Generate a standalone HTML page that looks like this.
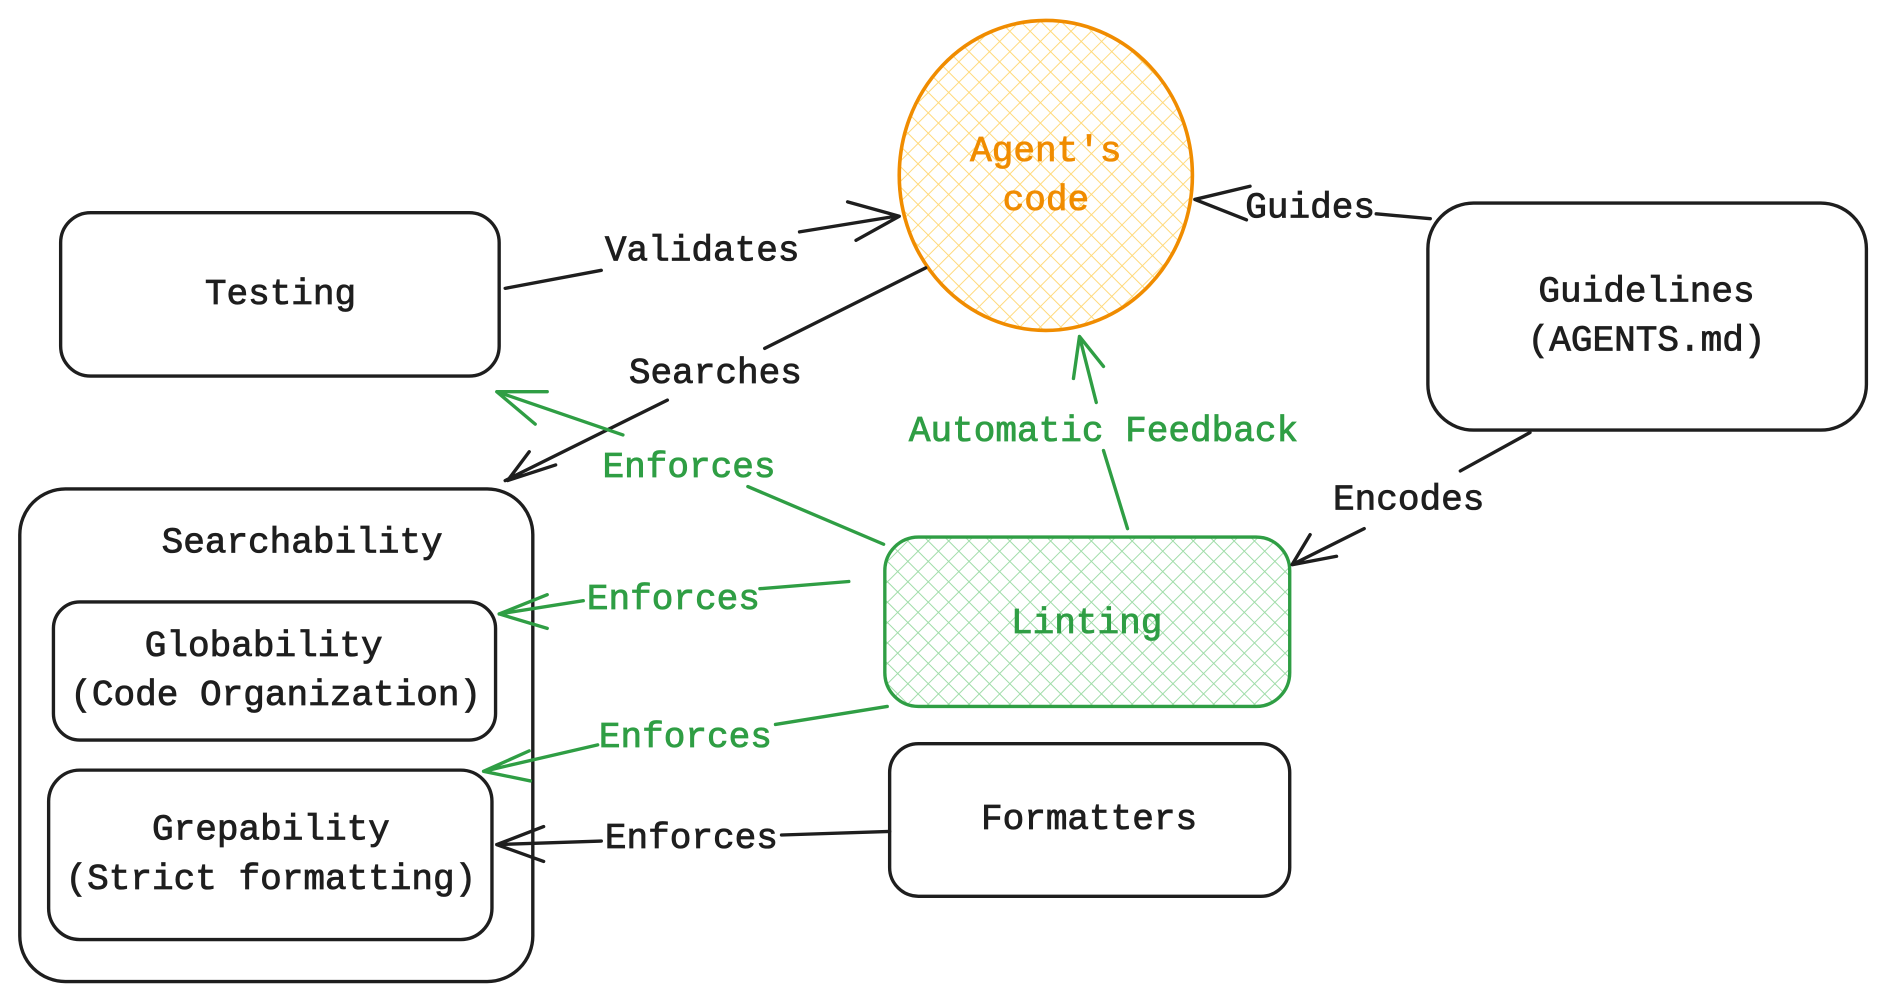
<!DOCTYPE html>
<html><head><meta charset="utf-8"><style>
html,body{margin:0;padding:0;background:#fff;}
svg{display:block;}
text{font-family:"Liberation Mono",monospace;font-size:30px;text-anchor:middle;dominant-baseline:middle;stroke-width:0.7;}
</style></head><body>
<svg width="1885" height="1002" viewBox="0 0 1568 834" xmlns="http://www.w3.org/2000/svg">
<defs>
<pattern id="hy" width="12" height="12" patternUnits="userSpaceOnUse" patternTransform="rotate(45)">
<rect width="12" height="12" fill="#fff"/>
<path d="M0 0V12M0 0H12" stroke="#ffd97a" stroke-width="1.6"/>
</pattern>
<pattern id="hg" width="12" height="12" patternUnits="userSpaceOnUse" patternTransform="rotate(45)">
<rect width="12" height="12" fill="#fff"/>
<path d="M0 0V12M0 0H12" stroke="#9fdca8" stroke-width="1.6"/>
</pattern>
</defs>
<g fill="none" stroke-width="2.8" stroke-linecap="round" stroke-linejoin="round">
<ellipse cx="870" cy="146" rx="122" ry="129" fill="url(#hy)" stroke="#f08c00" stroke-width="3"/>
<rect x="736" y="447" width="337" height="141" rx="28" fill="url(#hg)" stroke="#2f9e44"/>
<g stroke="#1e1e1e">
<rect x="50" y="177" width="365" height="136" rx="25"/>
<rect x="1188" y="169" width="365" height="189" rx="38"/>
<rect x="16" y="407" width="427" height="410" rx="38"/>
<rect x="44" y="501" width="368" height="115" rx="22"/>
<rect x="40" y="641" width="369" height="141" rx="26"/>
<rect x="740" y="619" width="333" height="127" rx="24"/>
<path d="M420 240L500 225M665 193L745 180M705 168L748 180L712 200"/>
<path d="M770 223L636 290M555 333L420 400M440 376L422 400L462 387"/>
<path d="M1190 182L1145 178M1040 155L994 166L1037 183"/>
<path d="M1273 360L1215 392M1135 440L1075 470M1090 445L1075 470L1112 463"/>
<path d="M740 692L650 695M500 700L413 703M452 688L413 703L452 717"/>
</g>
<g stroke="#2f9e44">
<path d="M938 440L918 375M912 335L898 280M893 315L898 280L918 305"/>
<path d="M735 453L622 405M518 362L413 326M445 353L413 326L455 326"/>
<path d="M706 484L632 490M485 500L415 511M455 495L415 511L455 523"/>
<path d="M738 588L645 603M497 620L402 642M440 625L402 642L441 650"/>
</g>
</g>
<g fill="#f08c00" stroke="#f08c00">
<text x="870" y="126">Agent's</text>
<text x="870" y="167">code</text>
</g>
<g fill="#1e1e1e" stroke="#1e1e1e">
<text x="233" y="245">Testing</text>
<text x="1370" y="243">Guidelines</text>
<text x="1370" y="284">(AGENTS.md)</text>
<text x="251" y="452">Searchability</text>
<text x="219" y="538">Globability</text>
<text x="229" y="579">(Code Organization)</text>
<text x="225" y="691">Grepability</text>
<text x="225" y="732">(Strict formatting)</text>
<text x="906" y="682">Formatters</text>
<text x="584" y="209">Validates</text>
<text x="595" y="311">Searches</text>
<text x="1090" y="173">Guides</text>
<text x="1172" y="416">Encodes</text>
<text x="575" y="698">Enforces</text>
</g>
<g fill="#2f9e44" stroke="#2f9e44">
<text x="904" y="519">Linting</text>
<text x="918" y="359">Automatic Feedback</text>
<text x="573" y="389">Enforces</text>
<text x="560" y="499">Enforces</text>
<text x="570" y="614">Enforces</text>
</g>
</svg>
</body></html>
